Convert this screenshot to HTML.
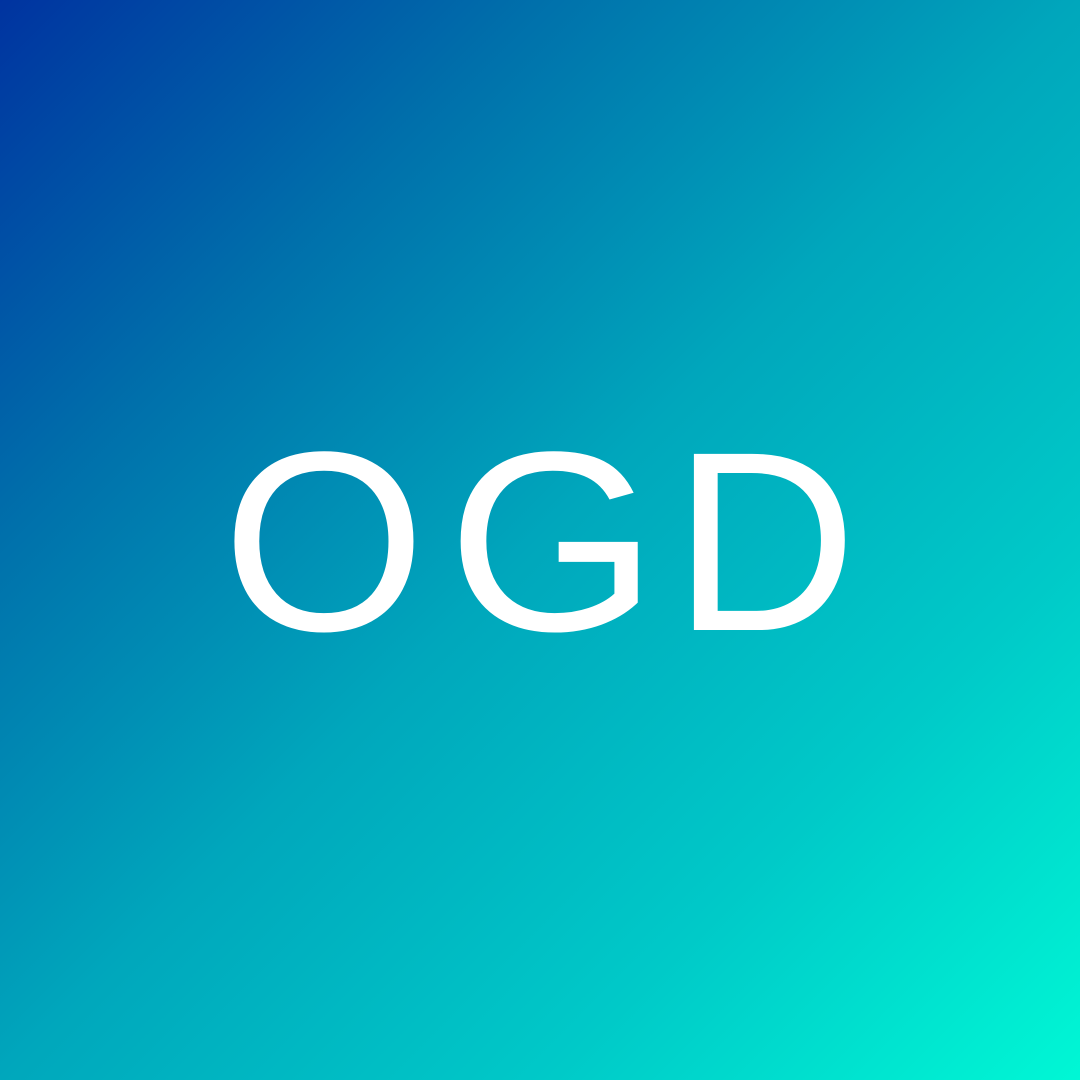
<!DOCTYPE html>
<html>
<head>
<meta charset="utf-8">
<style>
  html,body{margin:0;padding:0;width:1080px;height:1080px;overflow:hidden;}
  svg{display:block;}
</style>
</head>
<body>
<svg width="1080" height="1080" viewBox="0 0 1080 1080">
  <defs>
    <linearGradient id="bg" x1="0" y1="0" x2="1" y2="1">
      <stop offset="0" stop-color="#0033a0"/>
      <stop offset="0.25" stop-color="#0070ab"/>
      <stop offset="0.5" stop-color="#00a7bc"/>
      <stop offset="0.75" stop-color="#00c9c8"/>
      <stop offset="1" stop-color="#00f7d5"/>
    </linearGradient>
  </defs>
  <rect x="0" y="0" width="1080" height="1080" fill="url(#bg)"/>
  <g font-family="'Liberation Sans', sans-serif" font-size="256" fill="#ffffff">
    <text x="222" y="630" textLength="204" lengthAdjust="spacingAndGlyphs">O</text>
    <text x="447" y="630" textLength="211" lengthAdjust="spacingAndGlyphs">G</text>
    <text x="673" y="630" textLength="184" lengthAdjust="spacingAndGlyphs">D</text>
  </g>
</svg>
</body>
</html>
